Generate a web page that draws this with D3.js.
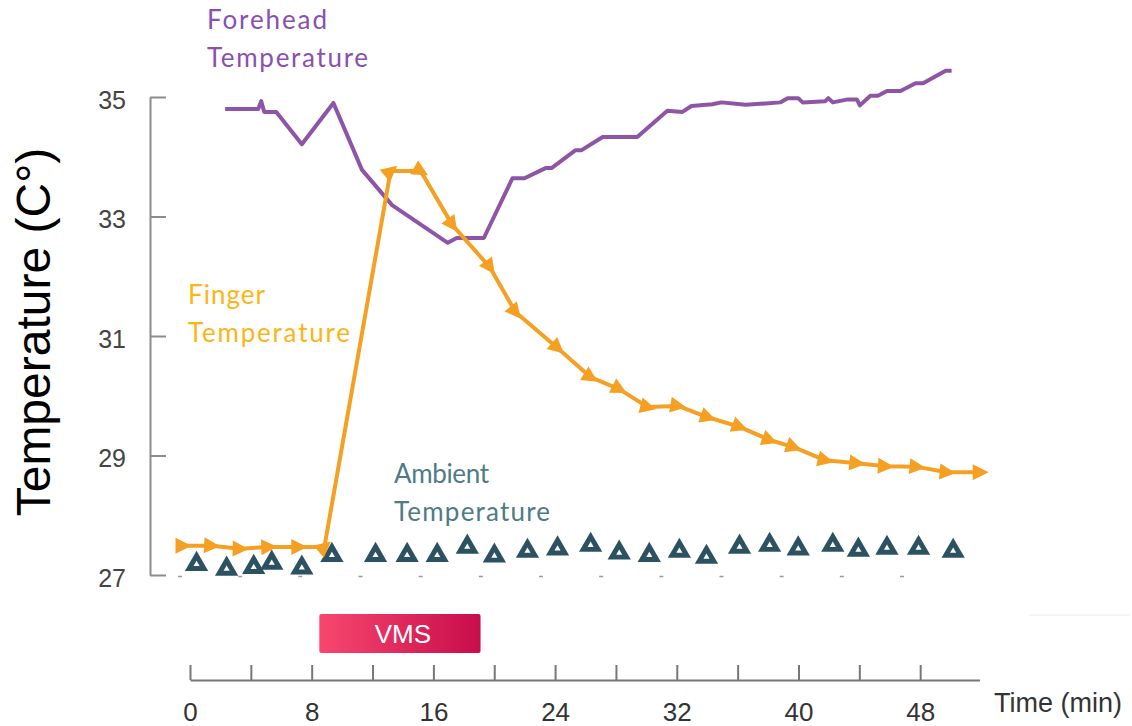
<!DOCTYPE html>
<html>
<head>
<meta charset="utf-8">
<script src="https://cdn.jsdelivr.net/npm/d3@7"></script>
<style>
  body { margin: 0; background: #fff; }
</style>
</head>
<body>
<svg id="chart" width="1132" height="726"></svg>
<script>
// data (minutes, °C)
const foreheadMin = [3.0, 5.2, 5.4, 5.6, 6.4, 8.1, 10.2, 12.1, 14.1, 17.8, 18.4, 20.2, 22.1, 22.9, 24.3, 24.7, 26.3, 26.7, 28.1, 30.4, 32.4, 33.4, 34.0, 35.4, 36.0, 37.6, 39.9, 40.4, 41.1, 41.4, 42.9, 43.1, 43.4, 44.4, 45.0, 45.2, 45.9, 46.4, 47.0, 47.9, 48.9, 49.4, 50.9, 51.3];
const foreheadTemp = [34.80, 34.80, 34.93, 34.75, 34.75, 34.21, 34.90, 33.78, 33.19, 32.56, 32.64, 32.64, 33.64, 33.64, 33.81, 33.81, 34.11, 34.11, 34.33, 34.33, 34.77, 34.75, 34.85, 34.88, 34.91, 34.87, 34.91, 34.98, 34.98, 34.91, 34.93, 34.98, 34.91, 34.96, 34.96, 34.86, 35.02, 35.02, 35.10, 35.10, 35.23, 35.23, 35.44, 35.44];

const fingerMin = [0.2, 2.1, 4.0, 5.9, 7.9, 9.6, 14.0, 16.0, 18.1, 20.6, 22.3, 25.1, 27.3, 29.2, 31.1, 33.1, 35.1, 37.2, 39.2, 40.8, 42.9, 45.0, 46.9, 49.0, 51.0, 53.2];
const fingerTemp = [27.49, 27.49, 27.44, 27.47, 27.47, 27.47, 33.76, 33.76, 32.86, 32.15, 31.40, 30.80, 30.31, 30.11, 29.81, 29.83, 29.64, 29.48, 29.26, 29.14, 28.92, 28.87, 28.82, 28.81, 28.72, 28.72];

const ambientMin = [1.1, 3.1, 4.9, 6.1, 8.1, 10.1, 13.0, 15.1, 17.1, 19.1, 20.9, 23.1, 25.1, 27.3, 29.2, 31.2, 33.2, 35.0, 37.2, 39.2, 41.1, 43.4, 45.1, 47.0, 49.1, 51.4];
const ambientTemp = [27.18, 27.10, 27.13, 27.20, 27.12, 27.33, 27.33, 27.33, 27.33, 27.47, 27.32, 27.40, 27.44, 27.50, 27.37, 27.33, 27.40, 27.30, 27.47, 27.50, 27.44, 27.50, 27.42, 27.45, 27.45, 27.40];

const yTicks = [27, 29, 31, 33, 35];
const minuteTicks = [0, 4, 8, 12, 16, 20, 24, 28, 32, 36, 40, 44, 48];
const timeLabelEvery = 8;
const timeAxisEnd = 51.9;
const vmsStart = 8.5, vmsEnd = 19.1;

const svg = d3.select("#chart");

const y = d3.scaleLinear().domain([27, 35]).range([575, 97]);
const xMain = d3.scaleLinear().domain([0, 48]).range([180, 902]);
const xTime = d3.scaleLinear().domain([0, timeAxisEnd]).range([190, 979.5]);

const gray = "#8c8c8c";

// y axis
svg.append("g")
  .attr("transform", "translate(150,0)")
  .call(d3.axisLeft(y).tickValues(yTicks).tickSize(-16).tickSizeOuter(0).tickPadding(24))
  .call(g => {
    g.select(".domain").attr("stroke", gray).attr("stroke-width", 2);
    g.selectAll(".tick line").attr("stroke", gray).attr("stroke-width", 2);
    g.selectAll(".tick text")
      .attr("fill", "#444")
      .attr("dy", "0.45em")
      .style("font", "25px 'Liberation Sans', Arial, sans-serif");
  });

svg.append("text")
  .attr("transform", "translate(50,332) rotate(-90)")
  .attr("text-anchor", "middle")
  .style("font", "48px 'Liberation Sans', Arial, sans-serif")
  .attr("fill", "#000")
  .text("Temperature (C°)");

// little dashes where the main chart's x ticks sit
svg.append("g")
  .selectAll("line")
  .data(minuteTicks)
  .join("line")
  .attr("x1", d => xMain(d) - 2)
  .attr("x2", d => xMain(d) + 2)
  .attr("y1", 576.5)
  .attr("y2", 576.5)
  .attr("stroke", "#9a9a9a")
  .attr("stroke-width", 1.5);

// ambient triangles
const ambient = svg.append("g")
  .selectAll("g")
  .data(d3.zip(ambientMin, ambientTemp))
  .join("g")
  .attr("transform", d => `translate(${xMain(d[0])},${y(d[1])})`);
ambient.append("path").attr("d", d3.symbol(d3.symbolTriangle, 235)).attr("fill", "#2c5262");
ambient.append("path").attr("d", d3.symbol(d3.symbolTriangle, 16)).attr("fill", "#fff");

const line = d3.line().x(d => xMain(d[0])).y(d => y(d[1]));

// forehead
svg.append("path")
  .datum(d3.zip(foreheadMin, foreheadTemp))
  .attr("d", line)
  .attr("fill", "none")
  .attr("stroke", "#8e55a6")
  .attr("stroke-width", 4)
  .attr("stroke-linejoin", "round");

// finger, with arrow markers
svg.append("defs")
  .append("marker")
  .attr("id", "arrow")
  .attr("viewBox", "-10 -10 20 20")
  .attr("markerWidth", 20)
  .attr("markerHeight", 20)
  .attr("markerUnits", "userSpaceOnUse")
  .attr("orient", "auto")
  .append("path")
  .attr("d", "M-7.5,-8L8.5,0L-7.5,8Z")
  .attr("fill", "#f5a023");

svg.append("path")
  .datum(d3.zip(fingerMin, fingerTemp))
  .attr("d", line)
  .attr("fill", "none")
  .attr("stroke", "#f5a023")
  .attr("stroke-width", 4)
  .attr("stroke-linejoin", "round")
  .attr("marker-start", "url(#arrow)")
  .attr("marker-mid", "url(#arrow)")
  .attr("marker-end", "url(#arrow)");

// series labels
const labelFont = "26px Lato, 'Noto Sans', sans-serif";
function label(x, y0, lines, widths, color) {
  const t = svg.append("text").style("font", labelFont).attr("fill", color);
  lines.forEach((s, i) => {
    t.append("tspan")
      .attr("x", x)
      .attr("y", y0 + i * 38)
      .attr("textLength", widths[i])
      .attr("lengthAdjust", "spacing")
      .text(s);
  });
}
label(207, 29, ["Forehead", "Temperature"], [120, 161], "#8a4fb3");
label(188, 304, ["Finger", "Temperature"], [77, 162], "#fdb515");
label(394, 483, ["Ambient", "Temperature"], [95, 156], "#4e7b86");

// VMS bar
const grad = svg.select("defs").append("linearGradient").attr("id", "vms");
grad.append("stop").attr("offset", "0%").attr("stop-color", "#f7476f");
grad.append("stop").attr("offset", "100%").attr("stop-color", "#c80d4b");

svg.append("rect")
  .attr("x", xTime(vmsStart))
  .attr("y", 614)
  .attr("width", xTime(vmsEnd) - xTime(vmsStart))
  .attr("height", 39)
  .attr("rx", 2)
  .attr("fill", "url(#vms)");

svg.append("text")
  .attr("x", (xTime(vmsStart) + xTime(vmsEnd)) / 2 + 3)
  .attr("y", 643)
  .attr("text-anchor", "middle")
  .attr("fill", "#fff")
  .style("font", "26px 'Liberation Sans', Arial, sans-serif")
  .text("VMS");

// time axis
svg.append("g")
  .attr("transform", "translate(0,680)")
  .call(d3.axisBottom(xTime)
    .tickValues(minuteTicks)
    .tickSize(-15)
    .tickSizeOuter(0)
    .tickPadding(23)
    .tickFormat(d => d % timeLabelEvery === 0 ? d : ""))
  .call(g => {
    g.select(".domain").attr("stroke", "#777").attr("stroke-width", 2);
    g.selectAll(".tick line").attr("stroke", "#777").attr("stroke-width", 2);
    g.selectAll(".tick text")
      .attr("fill", "#333")
      .style("font", "26px 'Liberation Sans', Arial, sans-serif");
  });

svg.append("text")
  .attr("x", 994)
  .attr("y", 712)
  .attr("fill", "#333")
  .style("font", "27px 'Liberation Sans', Arial, sans-serif")
  .text("Time (min)");

// faint leftover rule at the right
svg.append("line")
  .attr("x1", 1029).attr("x2", 1130)
  .attr("y1", 615).attr("y2", 615)
  .attr("stroke", "#ececec")
  .attr("stroke-width", 1);
</script>
</body>
</html>
